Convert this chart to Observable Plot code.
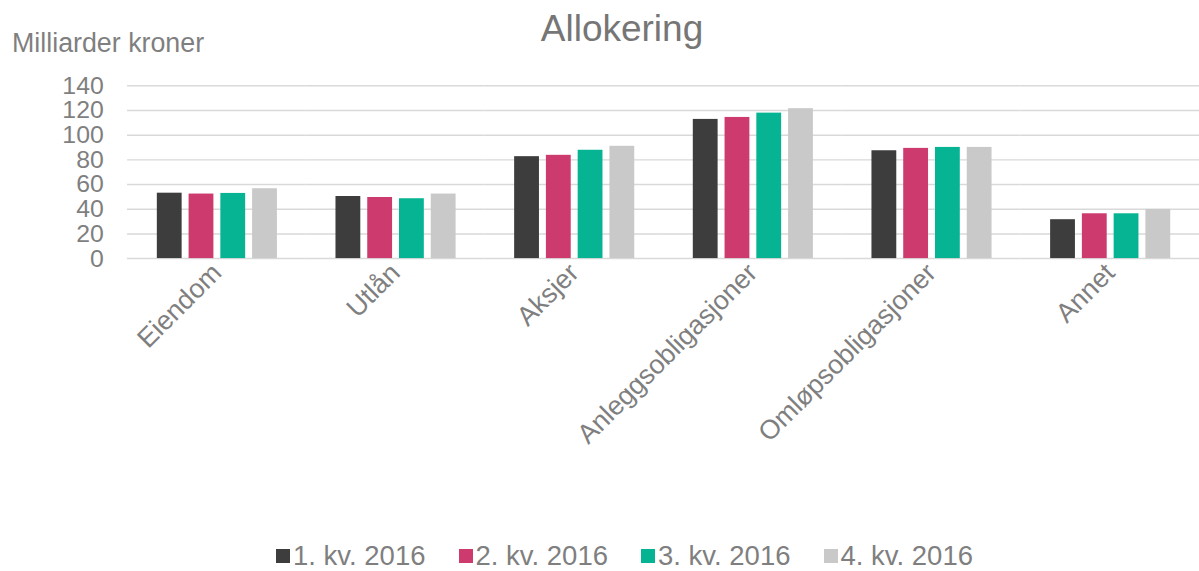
<!DOCTYPE html>
<html>
<head>
<meta charset="utf-8">
<script src="https://cdn.jsdelivr.net/npm/d3@7"></script>
<script src="https://cdn.jsdelivr.net/npm/@observablehq/plot@0.6"></script>
<style>
  html, body { margin: 0; padding: 0; background: #fff; }
  #wrap { position: relative; width: 1199px; height: 571px; overflow: hidden; font-family: "Liberation Sans", Arial, sans-serif; }
  #title { position: absolute; top: 8px; left: 622px; transform: translateX(-50%); font-size: 37px; color: #767676; white-space: nowrap; }
  #ylabel { position: absolute; top: 28px; left: 12px; font-size: 26.8px; color: #7f7f7f; white-space: nowrap; }
  #chart { position: absolute; top: 0; left: 0; }
  #legend { position: absolute; top: 540px; left: 276px; display: flex; font-size: 27.5px; color: #7f7f7f; white-space: nowrap; }
  .item { display: flex; align-items: center; margin-right: 33px; }
  .sw { width: 14px; height: 14px; margin-right: 3px; }
</style>
</head>
<body>
<div id="wrap">
  <div id="chart"></div>
  <div id="title">Allokering</div>
  <div id="ylabel">Milliarder kroner</div>
  <div id="legend"></div>
</div>
<script>
const categories = ["Eiendom", "Utlån", "Aksjer", "Anleggsobligasjoner", "Omløpsobligasjoner", "Annet"];
const series = ["1. kv. 2016", "2. kv. 2016", "3. kv. 2016", "4. kv. 2016"];
const q1 = [53.0, 50.3, 82.6, 112.8, 87.4, 31.5];
const q2 = [52.3, 49.5, 83.7, 114.4, 89.3, 36.3];
const q3 = [52.8, 48.5, 87.8, 117.9, 90.1, 36.3];
const q4 = [56.6, 52.3, 91.0, 121.5, 90.1, 39.8];
const colors = ["#3d3d3d", "#cc3a6e", "#06b493", "#c8c9c8"];
const yTicks = [0, 20, 40, 60, 80, 100, 120, 140];

const values = [q1, q2, q3, q4];
const data = [];
categories.forEach((c, i) => {
  series.forEach((s, j) => data.push({cat: c, series: s, value: values[j][i]}));
});

const chart = Plot.plot({
  width: 1208,
  height: 520,
  marginLeft: 128,
  marginRight: 0,
  marginTop: 86,
  marginBottom: 260,
  style: {fontFamily: "'Liberation Sans', Arial, sans-serif", background: "transparent"},
  fx: {domain: categories, padding: 0, label: null, axis: null},
  x: {domain: series, paddingInner: 0.22, paddingOuter: 0.9, axis: null},
  y: {domain: [0, 140], label: null},
  color: {domain: series, range: colors},
  marks: [
    Plot.gridY(yTicks, {stroke: "#d9d9d9", strokeOpacity: 1, strokeWidth: 1.5}),
    Plot.barY(data, {fx: "cat", x: "series", y: "value", fill: "series"}),
    Plot.axisY(yTicks, {tickSize: 0, tickPadding: 24, fontSize: 25, fill: "#7f7f7f", label: null}),
    Plot.axisFx({anchor: "bottom", tickRotate: -45, tickSize: 0, tickPadding: 10, fontSize: 27, fill: "#7f7f7f", label: null})
  ]
});
document.getElementById("chart").appendChild(chart);

const legend = document.getElementById("legend");
series.forEach((s, j) => {
  const item = document.createElement("div");
  item.className = "item";
  const sw = document.createElement("div");
  sw.className = "sw";
  sw.style.background = colors[j];
  const t = document.createElement("span");
  t.textContent = s;
  item.appendChild(sw);
  item.appendChild(t);
  legend.appendChild(item);
});
</script>
</body>
</html>
